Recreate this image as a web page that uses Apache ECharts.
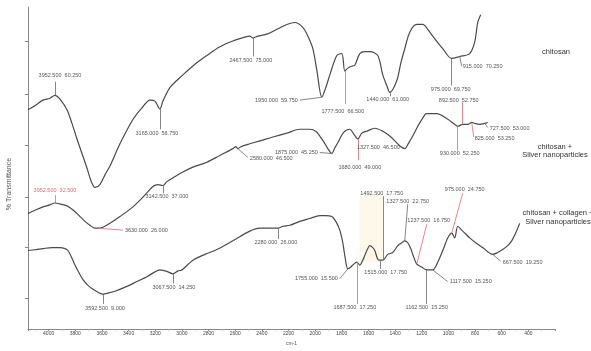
<!DOCTYPE html>
<html>
<head>
<meta charset="utf-8">
<script src="https://cdn.jsdelivr.net/npm/echarts@6/dist/echarts.min.js"></script>
<style>
  html, body { margin: 0; padding: 0; background: #fff; }
  #chart { width: 591px; height: 351px; }
</style>
</head>
<body>
<div id="chart"></div>
<script>
// FTIR spectra (wavenumber in cm-1 vs. transmittance), three samples offset vertically.

const xTickLabels = [4000, 3800, 3600, 3400, 3200, 3000, 2800, 2600, 2400, 2200, 2000,
                     1800, 1600, 1400, 1200, 1000, 800, 600, 400];
const yTickMarks = [8, 21, 34, 47.25, 60.5, 74.25];

const seriesNames = ['chitosan', 'chitosan +\nSilver nanoparticles',
                     'chitosan + collagen +\nSilver nanoparticles'];

// chitosan
const chitosanWn = [4155, 4095, 4042.5, 3990, 3952.5, 3915, 3862.5, 3825, 3787.5, 3750, 3712.5,
  3682.5, 3652.5, 3615, 3577.5, 3540, 3465, 3367.5, 3300, 3240, 3202.5, 3165, 3142.5, 3090,
  2992.5, 2902.5, 2812.5, 2715, 2617.5, 2527.5, 2490, 2467.5, 2430, 2362.5, 2287.5, 2212.5,
  2152.5, 2092.5, 2055, 2017.5, 1987.5, 1950, 1920, 1890, 1837.5, 1800, 1777.5, 1755, 1725,
  1702.5, 1665, 1627.5, 1590, 1530, 1492.5, 1462.5, 1440, 1387.5, 1357.5, 1327.5, 1290,
  1237.5, 1192.5, 1155, 1117.5, 1042.5, 975, 915, 840, 802.5, 780, 757.5];
const chitosanT = [56.5, 57.75, 59, 59.5, 60.25, 59.25, 56.5, 53, 49, 45.25, 41.5,
  38.25, 36.5, 37.25, 39.75, 42, 47.75, 54, 57, 59, 58.75, 56.75, 58.75, 62.25,
  65.5, 68.25, 70.5, 72.75, 74.25, 75.25, 75.5, 75, 75.5, 76, 77.25, 78.5,
  79, 77.75, 75.5, 72.25, 66.75, 59.75, 62.25, 65.5, 70.5, 71, 66.5, 67.25, 67.75,
  68, 71, 71.5, 71.5, 70.5, 65.5, 62.75, 61, 64, 68.5, 72.25, 76.5,
  78.5, 78.5, 77.25, 75.5, 72.25, 69.75, 70.25, 71, 74, 79, 81];

// chitosan + silver nanoparticles
const silverWn = [4155, 4095, 4042.5, 3990, 3952.5, 3915, 3862.5, 3810, 3765, 3727.5, 3690,
  3652.5, 3630, 3592.5, 3540, 3465, 3367.5, 3292.5, 3217.5, 3180, 3142.5, 3112.5, 3067.5,
  2992.5, 2917.5, 2812.5, 2715, 2617.5, 2595, 2580, 2557.5, 2490, 2415, 2317.5, 2212.5,
  2115, 2040, 1995, 1965, 1935, 1905, 1875, 1852.5, 1830, 1800, 1777.5, 1740, 1710, 1680,
  1650, 1612.5, 1552.5, 1492.5, 1440, 1387.5, 1357.5, 1327.5, 1297.5, 1267.5, 1230, 1200,
  1162.5, 1087.5, 1012.5, 952.5, 930, 892.5, 855, 825, 802.5, 765, 727.5, 705];
const silverT = [29.75, 30.75, 31.5, 32, 32.5, 32.25, 31.75, 30.5, 29, 27.75, 26.75,
  26, 26, 26.25, 27.25, 29, 31.5, 34, 36.75, 37.25, 37, 38, 39,
  40.5, 41.75, 43, 44.75, 46.5, 47, 46.5, 47, 47.75, 48.5, 49.5, 50.5,
  51.5, 51.5, 51, 49.75, 48.25, 46.5, 45.25, 46.75, 48, 50, 51, 51.5, 50.25, 49,
  50.5, 51, 51.75, 51, 49.75, 48, 47, 46.5, 48, 49.75, 52.25, 54,
  55.5, 55.5, 54.25, 52.75, 52.25, 52.75, 52.75, 53.25, 53, 52.75, 53, 53.25];

// chitosan + collagen + silver nanoparticles
const collagenWn = [4155, 4095, 4042.5, 3975, 3915, 3877.5, 3855, 3825, 3802.5, 3772.5, 3742.5,
  3705, 3667.5, 3630, 3592.5, 3555, 3502.5, 3412.5, 3337.5, 3262.5, 3202.5, 3165, 3127.5,
  3105, 3067.5, 3030, 3000, 2917.5, 2827.5, 2737.5, 2617.5, 2490, 2415, 2362.5, 2317.5,
  2280, 2242.5, 2190, 2115, 2040, 1965, 1920, 1875, 1845, 1815, 1792.5, 1777.5, 1755,
  1732.5, 1717.5, 1687.5, 1665, 1642.5, 1627.5, 1605, 1590, 1567.5, 1552.5, 1530, 1515,
  1492.5, 1455, 1417.5, 1380, 1350, 1327.5, 1305, 1282.5, 1267.5, 1237.5, 1200, 1162.5,
  1117.5, 1080, 1042.5, 1005, 975, 952.5, 930, 900, 870, 840, 795, 742.5, 667.5, 630,
  592.5, 555, 525, 495, 465];
const collagenT = [20.25, 20.5, 20.75, 21, 21, 20.75, 20.25, 18.25, 16.5, 14.5, 12.75,
  11.25, 10.25, 9.5, 9, 9.25, 9.75, 11, 12.25, 13.5, 14.75, 15.25, 15,
  14.75, 14.25, 15, 15.25, 17.75, 19.25, 20.5, 22.75, 25.25, 26, 26, 26,
  26, 26.5, 26.75, 27.75, 28.5, 29.25, 29.25, 29, 27.75, 25.5, 22.25, 19, 15.5,
  16, 16.5, 17.25, 16.5, 17.75, 19, 20.75, 21.5, 21, 20.25, 18, 17.75,
  17.75, 19.25, 19.75, 21.5, 22.25, 22.75, 22.25, 20.75, 19.25, 16.75, 16, 15.25,
  15.25, 17.25, 20.25, 23.5, 24.75, 23.5, 26.5, 25.5, 24.5, 23.5, 22.25, 21, 19.25, 19.75,
  20.5, 21.5, 22.75, 24.75, 27.25];

// Peak annotations: peak wavenumber, leader end and text anchor (axis units)
const RED = '#e06a6a';
const chitosanNotes = [
  { at: 3952.5, end: [3952.5, 63.75], text: [3915, 65.25], align: 'center' },
  { at: 3165, end: [3165, 51.5], text: [3187.5, 50.5], align: 'center' },
  { at: 2467.5, end: [2467.5, 70.25], text: [2482.5, 69.25], align: 'center' },
  { at: 1950, end: [2115, 59], text: [2130, 59], align: 'right' },
  { at: 1777.5, end: [1777.5, 58], text: [1792.5, 56], align: 'center', color: RED },
  { at: 1440, end: [1440, 60], text: [1455, 59.25], align: 'center' },
  { at: 975, end: [975, 62.75], text: [982.5, 61.75], align: 'center' },
  { at: 915, end: [900, 67.75], text: [892.5, 67.75], align: 'left' }
];
const silverNotes = [
  { at: 3952.5, end: [3952.5, 34.5], text: [3952.5, 35.75], align: 'center', color: RED, textColor: RED },
  { at: 3630, end: [3442.5, 25.5], text: [3427.5, 25.5], align: 'left', color: RED },
  { at: 3142.5, end: [3142.5, 35], text: [3112.5, 34.25], align: 'center' },
  { at: 2580, end: [2505, 44.25], text: [2490, 44], align: 'left' },
  { at: 1875, end: [1965, 45.5], text: [1980, 45.5], align: 'right' },
  { at: 1680, end: [1680, 43.5], text: [1665, 41.75], align: 'center', color: RED },
  { at: 1327.5, end: [1350, 47], text: [1365, 46.75], align: 'right' },
  { at: 930, end: [930, 46], text: [915, 45.25], align: 'center', color: RED },
  { at: 892.5, end: [892.5, 58.5], text: [922.5, 59], align: 'center', color: RED },
  { at: 727.5, end: [705, 52], text: [690, 51.75], align: 'left' },
  { at: 825, end: [810, 49.5], text: [802.5, 49], align: 'left', color: RED }
];
const collagenNotes = [
  { at: 3592.5, end: [3592.5, 6.5], text: [3577.5, 5.25], align: 'center' },
  { at: 3067.5, end: [3067.5, 11.75], text: [3060, 10.75], align: 'center' },
  { at: 2280, end: [2280, 23.25], text: [2295, 22.25], align: 'center' },
  { at: 1755, end: [1815, 13], text: [1830, 13], align: 'right' },
  { at: 1687.5, end: [1687.5, 6.5], text: [1702.5, 5.5], align: 'center', color: RED },
  { at: 1492.5, end: [1492.5, 34.25], text: [1500, 35], align: 'center' },
  { at: 1515, end: [1515, 15.5], text: [1470, 14.5], align: 'center' },
  { at: 1327.5, end: [1305, 32.25], text: [1305, 33], align: 'center' },
  { at: 1237.5, end: [1162.5, 27], text: [1147.5, 28], align: 'center', color: RED },
  { at: 1162.5, end: [1162.5, 6.5], text: [1162.5, 5.5], align: 'center' },
  { at: 1117.5, end: [1005, 12.25], text: [990, 12.25], align: 'left' },
  { at: 975, end: [892.5, 35], text: [877.5, 36], align: 'center', color: RED },
  { at: 667.5, end: [607.5, 17.5], text: [592.5, 17.25], align: 'left' }
];

const LINE = '#4a4a4a';
const TEXT = '#555';

function zip(xs, ys) { return xs.map((x, i) => [x, ys[i]]); }

function notesFor(wn, t, notes) {
  const lines = [];
  const points = [];
  notes.forEach(n => {
    const i = wn.indexOf(n.at);
    const peak = [wn[i], t[i]];
    lines.push([
      { coord: peak, lineStyle: { color: n.color || '#666', width: 0.8, type: 'solid' } },
      { coord: n.end }
    ]);
    points.push({
      coord: n.text,
      value: peak[0].toFixed(3) + '  ' + peak[1].toFixed(3),
      label: { align: n.align, color: n.textColor || TEXT }
    });
  });
  return {
    markLine: {
      silent: true, symbol: ['none', 'none'], animation: false,
      label: { show: false }, data: lines
    },
    markPoint: {
      silent: true, symbol: 'circle', symbolSize: 1, animation: false,
      itemStyle: { color: 'rgba(0,0,0,0)' },
      label: {
        show: true, position: 'inside', verticalAlign: 'middle',
        fontSize: 5.5, color: TEXT, fontFamily: 'Liberation Sans',
        formatter: p => p.value
      },
      data: points
    }
  };
}

function spectrum(name, wn, t, notes, extra) {
  return Object.assign({
    name: name,
    type: 'line',
    data: zip(wn, t),
    showSymbol: false,
    smooth: 0.3,
    lineStyle: { color: LINE, width: 1.2 },
    itemStyle: { color: LINE },
    animation: false
  }, notesFor(wn, t, notes), extra || {});
}

const chart = echarts.init(document.getElementById('chart'), null, { renderer: 'canvas' });

chart.setOption({
  backgroundColor: '#fff',
  grid: { left: 28, right: 36, top: 7, bottom: 12, containLabel: false },
  xAxis: {
    type: 'value', inverse: true, min: 200, max: 4155, interval: 200,
    name: 'cm-1', nameLocation: 'middle', nameGap: 8,
    nameTextStyle: { fontSize: 5, color: TEXT, fontFamily: 'Liberation Sans' },
    axisLine: { show: true, lineStyle: { color: '#888', width: 1 } },
    axisTick: { show: true, length: 2, lineStyle: { color: '#888' } },
    minorTick: { show: true, splitNumber: 2, length: 1.5, lineStyle: { color: '#aaa' } },
    axisLabel: {
      fontSize: 5, color: '#444', margin: 2, fontFamily: 'Liberation Sans',
      showMinLabel: false, showMaxLabel: false,
      formatter: v => (xTickLabels.indexOf(v) >= 0 ? String(v) : '')
    },
    splitLine: { show: false }
  },
  yAxis: {
    type: 'value', min: 0, max: 83,
    axisLine: { show: true, lineStyle: { color: '#888', width: 1 } },
    axisTick: { show: true, length: 3, customValues: yTickMarks, lineStyle: { color: '#888' } },
    axisLabel: { show: false },
    splitLine: { show: false }
  },
  graphic: [
    { type: 'text', x: 9, y: 184, rotation: Math.PI / 2,
      style: { text: '% Transmittance', fontSize: 7, fill: TEXT, align: 'center',
               verticalAlign: 'middle', fontFamily: 'Liberation Sans' } },
    { type: 'text', x: 556, y: 52,
      style: { text: seriesNames[0], fontSize: 7.5, fill: '#333', align: 'center',
               verticalAlign: 'middle', fontFamily: 'Liberation Sans' } },
    { type: 'text', x: 555, y: 151,
      style: { text: seriesNames[1], fontSize: 7.5, lineHeight: 8.5, fill: '#333', align: 'center',
               verticalAlign: 'middle', fontFamily: 'Liberation Sans' } },
    { type: 'text', x: 558, y: 217,
      style: { text: seriesNames[2], fontSize: 7.5, lineHeight: 9, fill: '#333', align: 'center',
               verticalAlign: 'middle', fontFamily: 'Liberation Sans' } }
  ],
  series: [
    spectrum(seriesNames[0], chitosanWn, chitosanT, chitosanNotes),
    spectrum(seriesNames[1], silverWn, silverT, silverNotes),
    spectrum(seriesNames[2], collagenWn, collagenT, collagenNotes, {
      markArea: {
        silent: true,
        itemStyle: { color: 'rgba(250,236,196,0.35)' },
        data: [[{ coord: [1665, 34.75] }, { coord: [1492.5, 17.25] }]]
      }
    })
  ]
});
</script>
</body>
</html>
